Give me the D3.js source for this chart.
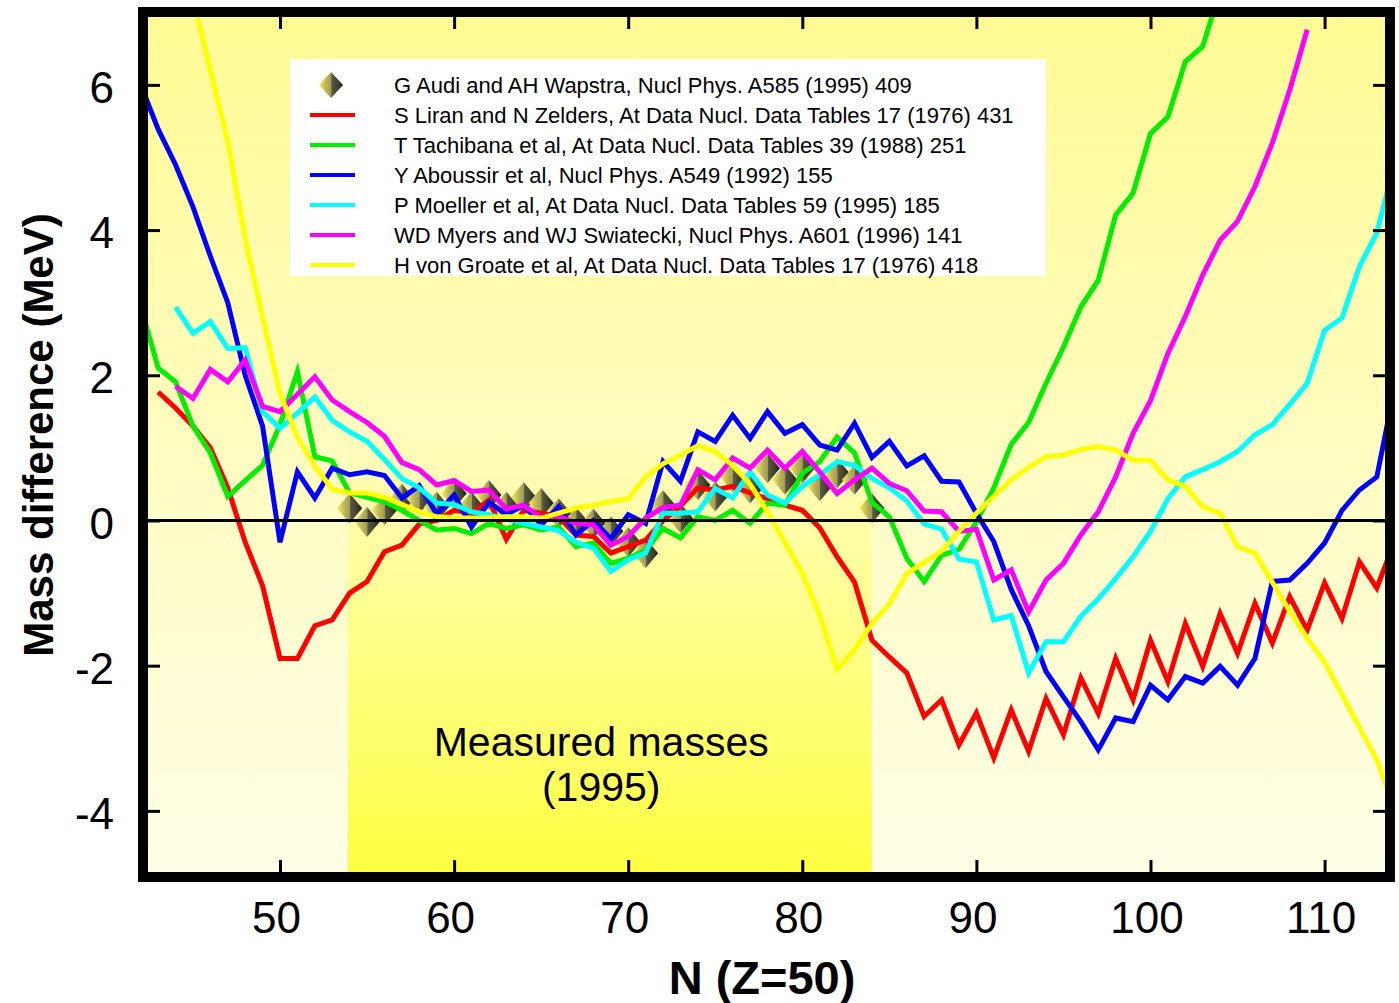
<!DOCTYPE html>
<html>
<head>
<meta charset="utf-8">
<script src="https://cdn.jsdelivr.net/npm/d3@7"></script>
<style>
  body { margin: 0; background: #fff; }
  svg { display: block; }
  text { font-family: "Liberation Sans", Arial, sans-serif; }
</style>
</head>
<body>
<svg width="1399" height="1003"></svg>
<script>
"use strict";

// values, one value per integer N, starting at the given N
const audiStart = 54;
const audiValues = [0.17, -0.02, 0.14, 0.3, 0.3, 0.19, 0.37, 0.19, 0.35, 0.19,
    0.32, 0.24, 0.1, -0.02, -0.04, -0.15, -0.3, -0.45, 0.21, 0.03,
    0.49, 0.33, 0.6, 0.44, 0.72, 0.56, 0.72, 0.47, 0.65, 0.56, 0.17];

const liranStart = 43;
const liranValues = [1.77, 1.55, 1.3, 1.0, 0.45, -0.3, -0.9, -1.9, -1.9, -1.45,
    -1.37, -1.0, -0.84, -0.43, -0.34, -0.05, 0.0, 0.14, 0.1, 0.28,
    -0.26, 0.14, 0.1, 0.05, -0.2, -0.22, -0.45, -0.36, -0.27, 0.0,
    0.2, 0.45, 0.42, 0.47, 0.38, 0.3, 0.21, 0.14, -0.1, -0.5,
    -0.85, -1.65, -1.88, -2.1, -2.7, -2.47, -3.09, -2.65, -3.27, -2.61,
    -3.18, -2.45, -2.95, -2.17, -2.66, -1.9, -2.47, -1.65, -2.22, -1.42,
    -2.01, -1.28, -1.83, -1.14, -1.69, -1.05, -1.51, -0.86, -1.35, -0.57,
    -0.93, -0.3];

const tachibanaStart = 42;
const tachibanaValues = [2.95, 2.1, 1.91, 1.3, 0.93, 0.33, 0.55, 0.76, 1.32, 2.05,
    0.88, 0.82, 0.38, 0.32, 0.26, 0.14, 0.0, -0.13, -0.11, -0.18,
    -0.04, -0.11, -0.06, -0.13, -0.09, -0.36, -0.31, -0.59, -0.52, -0.41,
    -0.11, -0.24, 0.05, 0.0, 0.14, -0.04, 0.24, 0.21, 0.65, 0.81,
    1.15, 0.93, 0.25, 0.05, -0.52, -0.84, -0.48, -0.4, -0.02, 0.45,
    1.05, 1.35, 1.89, 2.39, 2.94, 3.31, 4.21, 4.51, 5.33, 5.56,
    6.32, 6.53, 7.3];

const aboussirStart = 42;
const aboussirValues = [6.0, 5.39, 4.9, 4.32, 3.64, 3.0, 2.0, 1.3, -0.3, 0.67,
    0.31, 0.72, 0.63, 0.67, 0.62, 0.31, 0.48, 0.09, 0.35, -0.09,
    0.25, 0.08, 0.21, -0.06, 0.19, -0.2, 0.0, -0.25, 0.08, -0.04,
    0.81, 0.54, 1.22, 1.09, 1.45, 1.13, 1.5, 1.2, 1.32, 1.04,
    0.97, 1.34, 0.87, 1.09, 0.75, 0.89, 0.54, 0.53, 0.1, -0.29,
    -0.95, -1.45, -2.08, -2.43, -2.77, -3.16, -2.72, -2.77, -2.27, -2.47,
    -2.15, -2.24, -2.01, -2.27, -1.9, -0.84, -0.82, -0.59, -0.31, 0.14,
    0.42, 0.6, 1.8];

const moellerStart = 44;
const moellerValues = [2.94, 2.58, 2.74, 2.37, 2.38, 1.5, 1.27, 1.48, 1.7, 1.38,
    1.22, 1.09, 0.84, 0.58, 0.45, 0.24, 0.22, 0.12, 0.08, 0.02,
    -0.04, -0.09, -0.14, -0.3, -0.38, -0.7, -0.54, -0.45, 0.1, 0.1,
    0.12, 0.44, 0.31, 0.67, 0.35, 0.24, 0.47, 0.63, 0.81, 0.76,
    0.58, 0.45, 0.27, -0.05, -0.12, -0.53, -0.57, -1.37, -1.31, -2.1,
    -1.67, -1.67, -1.32, -1.08, -0.8, -0.5, -0.15, 0.3, 0.6, 0.7,
    0.81, 0.95, 1.18, 1.32, 1.6, 1.89, 2.62, 2.79, 3.5, 3.96,
    4.9];

const myersStart = 44;
const myersValues = [1.85, 1.68, 2.08, 1.91, 2.21, 1.57, 1.5, 1.74, 1.98, 1.66,
    1.5, 1.35, 1.16, 0.8, 0.7, 0.49, 0.55, 0.4, 0.42, 0.16,
    0.21, 0.04, 0.06, -0.04, -0.06, -0.34, -0.22, 0.03, 0.18, 0.21,
    0.7, 0.56, 0.86, 0.72, 0.97, 0.72, 0.95, 0.67, 0.37, 0.56,
    0.72, 0.51, 0.41, 0.13, 0.12, -0.15, -0.12, -0.82, -0.68, -1.26,
    -0.82, -0.59, -0.2, 0.12, 0.6, 1.2, 1.65, 2.3, 2.81, 3.38,
    3.86, 4.12, 4.6, 5.2, 5.93, 6.76];

const groateStart = 45;
const groateValues = [7.2, 6.2, 5.22, 3.88, 2.8, 1.75, 1.15, 0.75, 0.43, 0.38,
    0.38, 0.32, 0.22, 0.12, 0.05, 0.04, 0.03, 0.04, 0.05, 0.05,
    0.03, 0.1, 0.17, 0.21, 0.26, 0.3, 0.6, 0.78, 0.9, 1.03,
    0.95, 0.76, 0.5, 0.12, -0.3, -0.73, -1.3, -2.05, -1.78, -1.42,
    -1.15, -0.73, -0.58, -0.42, -0.15, 0.1, 0.33, 0.56, 0.73, 0.88,
    0.9, 0.98, 1.02, 0.97, 0.83, 0.83, 0.56, 0.47, 0.19, 0.1,
    -0.36, -0.45, -0.85, -1.25, -1.62, -1.95, -2.4, -2.85, -3.3, -3.95];

const legendLabels = [
    "G Audi and AH Wapstra, Nucl Phys. A585 (1995) 409",
    "S Liran and N Zelders, At Data Nucl. Data Tables 17 (1976) 431",
    "T Tachibana et al, At Data Nucl. Data Tables 39 (1988) 251",
    "Y Aboussir et al, Nucl Phys. A549 (1992) 155",
    "P Moeller et al, At Data Nucl. Data Tables 59 (1995) 185",
    "WD Myers and WJ Swiatecki, Nucl Phys. A601 (1996) 141",
    "H von Groate et al, At Data Nucl. Data Tables 17 (1976) 418"
];

const xTicks = [50, 60, 70, 80, 90, 100, 110];
const yTicks = [-4, -2, 0, 2, 4, 6];
const measuredRange = [53.9, 84.0];

const series = [
    {start: liranStart, values: liranValues, color: "#ff0000"},
    {start: tachibanaStart, values: tachibanaValues, color: "#00ee00"},
    {start: aboussirStart, values: aboussirValues, color: "#0000ff"},
    {start: moellerStart, values: moellerValues, color: "#00ffff"},
    {start: myersStart, values: myersValues, color: "#ff00ff"},
    {start: groateStart, values: groateValues, color: "#ffff00"}
];

const toPoints = (start, values) => values.map((v, i) => ({n: start + i, v: v}));

const Plot = {LEFT: 148, RIGHT: 1385, TOP: 17, BOTTOM: 872};
const svg = d3.select("svg");

const x = d3.scaleLinear().domain([42.418, 113.47]).range([Plot.LEFT, Plot.RIGHT]);
const y = d3.scaleLinear().domain([-4.842, 6.935]).range([Plot.BOTTOM, Plot.TOP]);

const defs = svg.append("defs");

const bg = defs.append("linearGradient").attr("id", "bg")
    .attr("x1", 0).attr("y1", 0).attr("x2", 0).attr("y2", 1);
bg.append("stop").attr("offset", 0).attr("stop-color", "#fffa94");
bg.append("stop").attr("offset", 0.5).attr("stop-color", "#fffcc0");
bg.append("stop").attr("offset", 1).attr("stop-color", "#fffee6");

const band = defs.append("linearGradient").attr("id", "band")
    .attr("x1", 0).attr("y1", 0).attr("x2", 0).attr("y2", 1);
band.append("stop").attr("offset", 0.48).attr("stop-color", "#ffff40").attr("stop-opacity", 0);
band.append("stop").attr("offset", 0.68).attr("stop-color", "#ffff40").attr("stop-opacity", 0.42);
band.append("stop").attr("offset", 1).attr("stop-color", "#ffff40").attr("stop-opacity", 1);

const diam = defs.append("linearGradient").attr("id", "diam")
    .attr("x1", 0).attr("y1", 0).attr("x2", 1).attr("y2", 0);
diam.append("stop").attr("offset", 0).attr("stop-color", "#f4f050");
diam.append("stop").attr("offset", 0.3).attr("stop-color", "#bcb45a");
diam.append("stop").attr("offset", 0.5).attr("stop-color", "#a29c52");
diam.append("stop").attr("offset", 0.53).attr("stop-color", "#5c5a42");
diam.append("stop").attr("offset", 0.85).attr("stop-color", "#38382c");
diam.append("stop").attr("offset", 1).attr("stop-color", "#101010");

defs.append("clipPath").attr("id", "plotClip")
    .append("rect")
    .attr("x", Plot.LEFT).attr("y", Plot.TOP)
    .attr("width", Plot.RIGHT - Plot.LEFT).attr("height", Plot.BOTTOM - Plot.TOP);

// background and the measured masses band
svg.append("rect")
    .attr("x", Plot.LEFT).attr("y", Plot.TOP)
    .attr("width", Plot.RIGHT - Plot.LEFT).attr("height", Plot.BOTTOM - Plot.TOP)
    .attr("fill", "url(#bg)");
svg.append("rect")
    .attr("x", x(measuredRange[0])).attr("y", Plot.TOP)
    .attr("width", x(measuredRange[1]) - x(measuredRange[0])).attr("height", Plot.BOTTOM - Plot.TOP)
    .attr("fill", "url(#band)");

// label sits a little left of the band centre in the original
const labelN = 68.45;
svg.append("text")
    .attr("x", x(labelN)).attr("y", 756)
    .attr("text-anchor", "middle").attr("font-size", 41)
    .text("Measured masses");
svg.append("text")
    .attr("x", x(labelN)).attr("y", 801)
    .attr("text-anchor", "middle").attr("font-size", 41)
    .text("(1995)");

const plot = svg.append("g").attr("clip-path", "url(#plotClip)");

const diamond = (cx, cy, hw, hh) =>
    `M${cx},${cy - hh}L${cx + hw},${cy}L${cx},${cy + hh}L${cx - hw},${cy}Z`;

plot.append("g").selectAll("path")
    .data(toPoints(audiStart, audiValues))
    .enter().append("path")
    .attr("d", d => diamond(x(d.n), y(d.v), 12.5, 15))
    .attr("fill", "url(#diam)");

const line = d3.line().x(d => x(d.n)).y(d => y(d.v));

plot.selectAll("path.series")
    .data(series)
    .enter().append("path")
    .attr("class", "series")
    .attr("d", d => line(toPoints(d.start, d.values)))
    .attr("fill", "none")
    .attr("stroke", d => d.color)
    .attr("stroke-width", 5);

// zero line
plot.append("line")
    .attr("x1", Plot.LEFT).attr("x2", Plot.RIGHT)
    .attr("y1", y(0)).attr("y2", y(0))
    .attr("stroke", "#000").attr("stroke-width", 3);

// axes, ticks pointing inwards
const styleAxis = g => {
    g.select(".domain").remove();
    g.selectAll(".tick line").attr("stroke", "#000").attr("stroke-width", 3);
    g.selectAll(".tick text").attr("fill", "#000").attr("font-size", 44)
        .attr("font-family", "'Liberation Sans', Arial, sans-serif");
};

svg.append("g")
    .attr("transform", `translate(0, ${Plot.BOTTOM})`)
    .call(d3.axisBottom(x).tickValues(xTicks).tickSize(-12).tickPadding(30).tickFormat(d => String(d)))
    .call(styleAxis)
    .selectAll(".tick text").attr("dx", -4);

svg.append("g")
    .attr("transform", `translate(0, ${Plot.TOP})`)
    .call(d3.axisTop(x).tickValues(xTicks).tickSize(-12).tickFormat(""))
    .call(styleAxis);

svg.append("g")
    .attr("transform", `translate(${Plot.LEFT}, 0)`)
    .call(d3.axisLeft(y).tickValues(yTicks).tickSize(-12).tickPadding(34).tickFormat(d => String(d)))
    .call(styleAxis)
    .selectAll(".tick text").attr("dy", "0.4em");

svg.append("g")
    .attr("transform", `translate(${Plot.RIGHT}, 0)`)
    .call(d3.axisRight(y).tickValues(yTicks).tickSize(-12).tickFormat(""))
    .call(styleAxis);

// frame
svg.append("rect")
    .attr("x", Plot.LEFT - 5).attr("y", Plot.TOP - 5)
    .attr("width", Plot.RIGHT - Plot.LEFT + 10).attr("height", Plot.BOTTOM - Plot.TOP + 10)
    .attr("fill", "none").attr("stroke", "#000").attr("stroke-width", 10);

// axis titles
svg.append("text")
    .attr("transform", "translate(53, 435) rotate(-90)")
    .attr("text-anchor", "middle").attr("font-size", 42).attr("font-weight", "bold")
    .text("Mass difference (MeV)");
svg.append("text")
    .attr("x", 762).attr("y", 994)
    .attr("text-anchor", "middle").attr("font-size", 47).attr("font-weight", "bold")
    .text("N (Z=50)");

// legend
const legend = svg.append("g");
legend.append("rect")
    .attr("x", 290).attr("y", 59).attr("width", 756).attr("height", 217)
    .attr("fill", "#fff");

const rows = legend.selectAll("g.row")
    .data(legendLabels)
    .enter().append("g")
    .attr("class", "row")
    .attr("transform", (d, i) => `translate(0, ${85 + i * 30})`);

rows.append("text")
    .attr("x", 394).attr("y", 8)
    .attr("font-size", 22)
    .text(d => d);

rows.filter((d, i) => i === 0).append("path")
    .attr("d", diamond(331, 0, 12, 13))
    .attr("fill", "url(#diam)");

rows.filter((d, i) => i > 0).append("line")
    .attr("x1", 310).attr("x2", 355)
    .attr("stroke", (d, i) => series[i].color)
    .attr("stroke-width", 4);
</script>
</body>
</html>
